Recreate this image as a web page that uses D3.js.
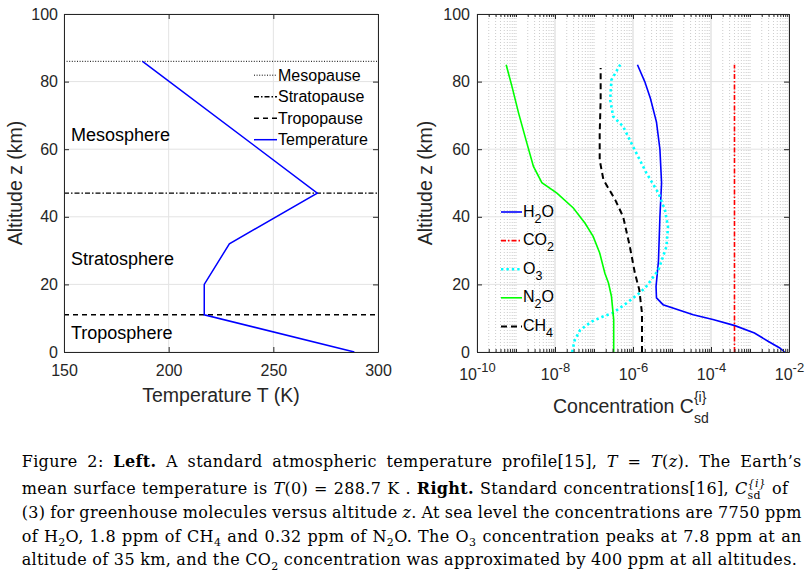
<!DOCTYPE html>
<html lang="en">
<head>
<meta charset="UTF-8">
<title>Figure 2</title>
<style>
  body { margin: 0; background: #fff; }
  svg { display: block; }
</style>
<script src="https://d3js.org/d3.v7.min.js"></script>
<script>
// ---- Left: standard temperature profile ----
var tempAlt = [0, 11, 20, 32, 47, 86];
var tempK   = [288.7, 217, 217, 229, 271, 187.5];

var pauseNames = ["Mesopause", "Stratopause", "Tropopause"];
var pauseAlt   = [86, 47, 11];

var layerNames = ["Mesosphere", "Stratosphere", "Troposphere"];
var layerAlt   = [64.2, 27.5, 5.6];

var tempTicksX = [150, 200, 250, 300];
var altTicks   = [0, 20, 40, 60, 80, 100];

// ---- Right: concentrations ----
var h2oAlt  = [0, 1.2, 3.2, 5.6, 7.8, 9.6, 11, 14, 16, 19.4, 27, 40, 50, 60, 68, 75, 80, 85];
var h2oConc = [7.7e-3, 5.8e-3, 2.9e-3, 1.3e-3, 4.1e-4, 1.12e-4, 3.5e-5, 5.9e-6, 4.0e-6, 3.9e-6, 4.5e-6, 4.9e-6, 5.4e-6, 4.9e-6, 4.0e-6, 2.8e-6, 2.0e-6, 1.3e-6];

var co2Alt  = [0, 85];
var co2Conc = [4e-4, 4e-4];

var o3Alt  = [0, 3.5, 6.5, 9, 10.5, 11.6, 14.5, 17.5, 19.4, 24.3, 31.2, 37, 42, 47, 53, 60.8, 66.7, 69.7, 74.6, 80.5, 85];
var o3Conc = [2.75e-8, 3.2e-8, 4.4e-8, 8.7e-8, 1.7e-7, 3.1e-7, 6.9e-7, 1.5e-6, 2.2e-6, 4.5e-6, 7.2e-6, 7.9e-6, 6.6e-6, 4.5e-6, 2.2e-6, 1.0e-6, 5.6e-7, 3.1e-7, 2.6e-7, 2.8e-7, 4.7e-7];

var n2oAlt  = [0, 9.6, 16.5, 20.4, 23.3, 29.3, 34.2, 38.1, 42.6, 47, 50.1, 54.9, 61.8, 70.6, 78.5, 85];
var n2oConc = [3.2e-7, 3.2e-7, 2.8e-7, 2.35e-7, 1.9e-7, 1.4e-7, 9.5e-8, 5.9e-8, 2.95e-8, 1.12e-8, 4.6e-9, 2.8e-9, 1.9e-9, 1.17e-9, 7.9e-10, 5.6e-10];

var ch4Alt  = [0, 11.5, 18.4, 23.3, 31.2, 40, 45, 51, 56.8, 64.7, 74.6, 84];
var ch4Conc = [1.7e-6, 1.7e-6, 1.45e-6, 1.12e-6, 8.3e-7, 5.6e-7, 3.5e-7, 1.74e-7, 1.4e-7, 1.4e-7, 1.48e-7, 1.48e-7];

var concTicks = [1e-10, 1e-8, 1e-6, 1e-4, 1e-2];

function grafico() {

  var ancho = 810, alto = 573;
  var ink = "#262626";
  var sans = "'Liberation Sans', Arial, sans-serif";
  var serif = "'DejaVu Serif', serif";

  var svg = d3.select("body").append("svg")
              .attr("width", ancho)
              .attr("height", alto);

  // scales
  var xL = d3.scaleLinear().domain([150, 300]).range([64, 378]);
  var yL = d3.scaleLinear().domain([0, 100]).range([352, 14]);
  var xR = d3.scaleLog().domain([1e-10, 1e-2]).range([477, 789]);
  var yR = d3.scaleLinear().domain([0, 100]).range([352, 14]);

  // minor log ticks (n x 10^k) that are not labelled
  var minor = [];
  for (var k = -10; k < -2; k++) {
    for (var n = 1; n <= 9; n++) {
      var v = n * Math.pow(10, k);
      if (!(n === 1 && k % 2 === 0)) minor.push(v);
    }
  }

  // ---------- grids ----------
  var gL = svg.append("g");
  gL.selectAll(".gx").data(tempTicksX).enter().append("line")
    .attr("x1", xL).attr("x2", xL).attr("y1", yL(0)).attr("y2", yL(100))
    .attr("stroke", "#e3e3e3");
  gL.selectAll(".gy").data(altTicks).enter().append("line")
    .attr("x1", xL(150)).attr("x2", xL(300)).attr("y1", yL).attr("y2", yL)
    .attr("stroke", "#e3e3e3");

  var gR = svg.append("g");
  gR.selectAll(".mx").data(minor).enter().append("line")
    .attr("x1", xR).attr("x2", xR).attr("y1", yR(0)).attr("y2", yR(100))
    .attr("stroke", "#cccccc").attr("stroke-dasharray", "1,2");
  gR.selectAll(".gx").data(concTicks).enter().append("line")
    .attr("x1", xR).attr("x2", xR).attr("y1", yR(0)).attr("y2", yR(100))
    .attr("stroke", "#e3e3e3").attr("stroke-width", 1.5);
  gR.selectAll(".gy").data(altTicks).enter().append("line")
    .attr("x1", xR(1e-10)).attr("x2", xR(1e-2)).attr("y1", yR).attr("y2", yR)
    .attr("stroke", "#e3e3e3");

  // ---------- left plot marks ----------
  var pauseDash = ["1,1.6", "5,2,1.5,2", "5,4"];
  var pauseW = [1, 1.2, 1.5];
  svg.selectAll(".pause").data(pauseAlt).enter().append("line")
     .attr("x1", xL(150)).attr("x2", xL(300))
     .attr("y1", yL).attr("y2", yL)
     .attr("stroke", "#000")
     .attr("stroke-width", function(d, i) { return pauseW[i]; })
     .attr("stroke-dasharray", function(d, i) { return pauseDash[i]; });

  var lineL = d3.line().x(function(d) { return xL(d[0]); }).y(function(d) { return yL(d[1]); });
  svg.append("path")
     .attr("d", lineL(d3.zip(tempK, tempAlt)))
     .attr("fill", "none").attr("stroke", "#0000ff").attr("stroke-width", 1.5);

  svg.selectAll(".layer").data(layerNames).enter().append("text")
     .attr("x", 71).attr("y", function(d, i) { return yL(layerAlt[i]) + 6; })
     .attr("font-family", sans).attr("font-size", 18).attr("fill", "#000")
     .text(function(d) { return d; });

  // left legend (no background box)
  var legL = svg.append("g");
  var legLDash = pauseDash.concat([null]);
  var legLCol = ["#000", "#000", "#000", "#0000ff"];
  var legLW = [1, 1.5, 1.5, 1.5];
  pauseNames.concat(["Temperature"]).forEach(function(name, i) {
    var yb = 80.7 + i * 21.5;
    legL.append("line").attr("x1", 254).attr("x2", 277).attr("y1", yb - 5.5).attr("y2", yb - 5.5)
        .attr("stroke", legLCol[i]).attr("stroke-width", legLW[i])
        .attr("stroke-dasharray", legLDash[i]);
    legL.append("text").attr("x", 278).attr("y", yb)
        .attr("font-family", sans).attr("font-size", 16).attr("fill", "#000").text(name);
  });

  // ---------- right plot marks ----------
  var series = [
    { alt: h2oAlt, c: h2oConc, col: "#0000ff", w: 1.6, dash: null },
    { alt: co2Alt, c: co2Conc, col: "#ff0000", w: 1.6, dash: "5,2,1.5,2" },
    { alt: o3Alt,  c: o3Conc,  col: "#00ffff", w: 2.6, dash: "2.4,3" },
    { alt: n2oAlt, c: n2oConc, col: "#00ff00", w: 1.6, dash: null },
    { alt: ch4Alt, c: ch4Conc, col: "#000000", w: 2,   dash: "6,4" }
  ];
  var lineR = d3.line().x(function(d) { return xR(d[0]); }).y(function(d) { return yR(d[1]); });
  series.forEach(function(s) {
    svg.append("path")
       .attr("d", lineR(d3.zip(s.c, s.alt)))
       .attr("fill", "none").attr("stroke", s.col)
       .attr("stroke-width", s.w).attr("stroke-dasharray", s.dash);
  });

  // right legend
  var legNames = [
    [["H", 0], ["2", 1], ["O", 0]],
    [["CO", 0], ["2", 1]],
    [["O", 0], ["3", 1]],
    [["N", 0], ["2", 1], ["O", 0]],
    [["CH", 0], ["4", 1]]
  ];
  series.forEach(function(s, i) {
    var yb = 216.5 + i * 28.6;
    svg.append("line").attr("x1", 501).attr("x2", 522).attr("y1", yb - 4.5).attr("y2", yb - 4.5)
       .attr("stroke", s.col).attr("stroke-width", s.w).attr("stroke-dasharray", s.dash);
    var t = svg.append("text").attr("x", 523).attr("y", yb)
               .attr("font-family", sans).attr("font-size", 16).attr("fill", "#000");
    var shift = 0;
    legNames[i].forEach(function(p) {
      var target = p[1] ? 6 : 0;
      t.append("tspan").attr("dy", target - shift)
       .attr("font-size", p[1] ? 12.5 : 16).text(p[0]);
      shift = target;
    });
  });

  // ---------- axes ----------
  function eje(g, axis) {
    g.call(axis);
    g.attr("font-size", null).attr("font-family", null);
    g.selectAll(".tick text").attr("font-family", sans).attr("font-size", 16).attr("fill", ink);
    return g;
  }

  var axL = svg.append("g").attr("color", ink);
  eje(axL.append("g").attr("transform", "translate(0,352)"),
      d3.axisBottom(xL).tickValues(tempTicksX).tickSizeInner(-5).tickSizeOuter(0).tickPadding(13));
  eje(axL.append("g").attr("transform", "translate(64,0)"),
      d3.axisLeft(yL).tickValues(altTicks).tickSizeInner(-5).tickSizeOuter(0).tickPadding(6));
  eje(axL.append("g").attr("transform", "translate(0,14)"),
      d3.axisTop(xL).tickValues(tempTicksX).tickSizeInner(-5).tickSizeOuter(0).tickFormat(""));
  eje(axL.append("g").attr("transform", "translate(378,0)"),
      d3.axisRight(yL).tickValues(altTicks).tickSizeInner(-5).tickSizeOuter(0).tickFormat(""));

  var axR = svg.append("g").attr("color", ink);
  var bx = eje(axR.append("g").attr("transform", "translate(0,352)"),
      d3.axisBottom(xR).tickValues(concTicks).tickSizeInner(-5).tickSizeOuter(0).tickFormat(""));
  eje(axR.append("g").attr("transform", "translate(0,352)"),
      d3.axisBottom(xR).tickValues(minor).tickSizeInner(-3).tickSizeOuter(0).tickFormat(""));
  eje(axR.append("g").attr("transform", "translate(0,14)"),
      d3.axisTop(xR).tickValues(concTicks).tickSizeInner(-5).tickSizeOuter(0).tickFormat(""));
  eje(axR.append("g").attr("transform", "translate(0,14)"),
      d3.axisTop(xR).tickValues(minor).tickSizeInner(-3).tickSizeOuter(0).tickFormat(""));
  eje(axR.append("g").attr("transform", "translate(477,0)"),
      d3.axisLeft(yR).tickValues(altTicks).tickSizeInner(-5).tickSizeOuter(0).tickPadding(7));
  eje(axR.append("g").attr("transform", "translate(789,0)"),
      d3.axisRight(yR).tickValues(altTicks).tickSizeInner(-5).tickSizeOuter(0).tickFormat(""));

  // 10^k labels
  bx.selectAll(".tick text").each(function(d) {
    var t = d3.select(this).attr("y", 28).attr("dy", null);
    t.append("tspan").text("10");
    t.append("tspan").attr("font-size", 13).attr("dy", -8.5).text("-" + Math.abs(Math.round(Math.log10(d))));
  });

  // axis titles
  svg.append("text").attr("x", 221).attr("y", 402).attr("text-anchor", "middle")
     .attr("font-family", sans).attr("font-size", 19.5).attr("fill", ink)
     .text("Temperature T (K)");
  [21.5, 431.5].forEach(function(xp) {
    svg.append("text").attr("transform", "translate(" + xp + ",183) rotate(-90)")
       .attr("text-anchor", "middle").attr("font-family", sans).attr("font-size", 19.5)
       .attr("fill", ink).text("Altitude z (km)");
  });
  var xt = svg.append("text").attr("x", 553).attr("y", 413)
              .attr("font-family", sans).attr("font-size", 19.5).attr("fill", ink);
  xt.append("tspan").text("Concentration C");
  var sup = xt.append("tspan").attr("font-size", 14).attr("dy", -11).text("{i}");
  var wSup = sup.node().getComputedTextLength();
  xt.append("tspan").attr("font-size", 14).attr("dx", -wSup).attr("dy", 21).text("sd");

  // ---------- caption ----------
  // piece types: "" normal, b bold, i italic, sub, sup, subx (sub stacked under previous sup)
  var caption = [
    [["Figure 2: ", ""], ["Left.", "b"], [" A standard atmospheric temperature profile[15], ", ""], ["T", "i"], [" = ", ""], ["T", "i"], ["(", ""], ["z", "i"], ["). The Earth’s", ""]],
    [["mean surface temperature is ", ""], ["T", "i"], ["(0) = 288.7 K . ", ""], ["Right.", "b"], [" Standard concentrations[16], ", ""], ["C", "i"], ["{i}", "sup"], ["sd", "subx"], [" of", ""]],
    [["(3) for greenhouse molecules versus altitude ", ""], ["z", "i"], [". At sea level the concentrations are 7750 ppm", ""]],
    [["of H", ""], ["2", "sub"], ["O, 1.8 ppm of CH", ""], ["4", "sub"], [" and 0.32 ppm of N", ""], ["2", "sub"], ["O. The O", ""], ["3", "sub"], [" concentration peaks at 7.8 ppm at an", ""]],
    [["altitude of 35 km, and the CO", ""], ["2", "sub"], [" concentration was approximated by 400 ppm at all altitudes.", ""]]
  ];
  var capY = [467.3, 494, 517.7, 541.7, 565];
  var capW = [780, 780, 780, 780, 775.5];

  caption.forEach(function(line, li) {
    var t = svg.append("text").attr("x", 21.7).attr("y", capY[li])
               .attr("font-family", serif).attr("font-size", 16)
               .attr("letter-spacing", 0.35).attr("fill", "#000");
    var shift = 0, lastSup = 0, pendingDx = 0, spaces = 0;
    line.forEach(function(p) {
      var type = p[1];
      var target = (type === "sub" || type === "subx") ? 4.5 : (type === "sup" ? -7.5 : 0);
      var s = t.append("tspan").attr("dy", target - shift).text(p[0]);
      if (type === "b") s.attr("font-weight", "bold");
      if (type === "i") s.attr("font-style", "italic");
      if (type === "sub" || type === "sup" || type === "subx") s.attr("font-size", 11);
      if (type === "sup") s.attr("font-style", "italic");
      if (type === "subx") s.attr("dx", -lastSup);
      else if (pendingDx > 0) { s.attr("dx", pendingDx); pendingDx = 0; }
      var w = s.node().getComputedTextLength();
      if (type === "sup") lastSup = w;
      if (type === "subx") pendingDx = Math.max(0, lastSup - w);
      shift = target;
      spaces += (p[0].match(/ /g) || []).length;
    });
    var natural = t.node().getComputedTextLength();
    t.attr("word-spacing", (capW[li] - natural) / spaces);
  });
}
</script>
</head>
<body onload="grafico()">
</body>
</html>
